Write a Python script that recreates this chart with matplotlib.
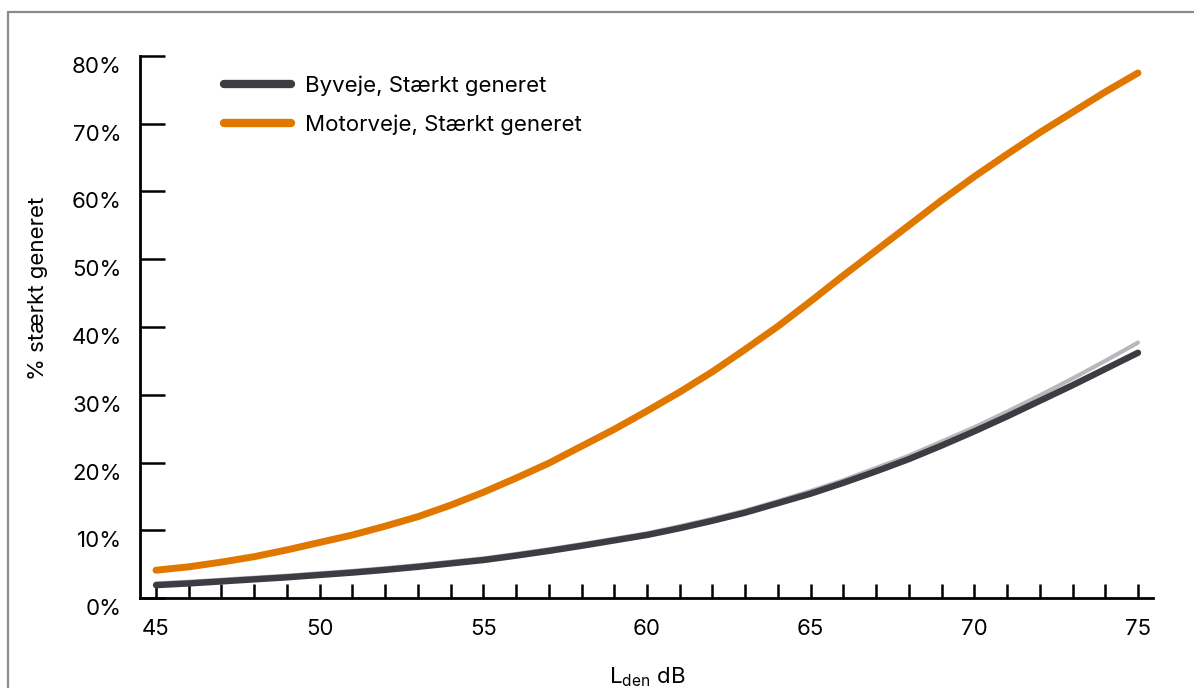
import numpy as np
import matplotlib
matplotlib.use("Agg")
import matplotlib.pyplot as plt
from matplotlib.patches import Rectangle
from matplotlib.ticker import MultipleLocator, FuncFormatter
from matplotlib.transforms import ScaledTranslation

plt.rcParams['font.family'] = ['Inter', 'DejaVu Sans']
plt.rcParams['mathtext.fontset'] = 'custom'
plt.rcParams['mathtext.rm'] = 'Inter'

# data (Lden dB -> % strongly annoyed)
lden = list(range(45, 76))
byveje = [1.9, 2.15, 2.45, 2.75, 3.05, 3.4, 3.75, 4.15, 4.6, 5.1, 5.6,
          6.25, 6.95, 7.7, 8.5, 9.3, 10.3, 11.4, 12.6, 14.0, 15.4,
          17.0, 18.7, 20.5, 22.5, 24.6, 26.8, 29.1, 31.4, 33.8, 36.2]
byveje_lys = [2.15, 2.4, 2.7, 3.0, 3.3, 3.65, 4.0, 4.4, 4.85, 5.35, 5.85,
              6.5, 7.2, 7.95, 8.75, 9.55, 10.6, 11.7, 12.9, 14.3, 15.8,
              17.4, 19.2, 21.0, 23.1, 25.2, 27.5, 29.9, 32.4, 35.0, 37.7]
motorveje = [4.1, 4.6, 5.3, 6.1, 7.1, 8.2, 9.3, 10.6, 12.0, 13.7, 15.6,
             17.7, 19.9, 22.4, 24.9, 27.6, 30.4, 33.4, 36.7, 40.1, 43.8,
             47.6, 51.3, 55.0, 58.7, 62.2, 65.5, 68.7, 71.7, 74.7, 77.5]
labels = ['Byveje, Stærkt generet', 'Motorveje, Stærkt generet']

W, H = 1194, 688
fs = 16
fig = plt.figure(figsize=(W / 100, H / 100), dpi=100)
ax = fig.add_axes([140 / W, 1 - 598 / H, (1153 - 140) / W, (598 - 56) / H])

y1 = np.array(byveje) / 100
y1b = np.array(byveje_lys) / 100
y2 = np.array(motorveje) / 100

ax.plot(lden, y1b, color='#b8b8bb', lw=3.0, solid_capstyle='round', zorder=2)
ax.plot(lden, y1, color='#3b3d43', lw=4.6, solid_capstyle='round', zorder=3, label=labels[0])
ax.plot(lden, y2, color='#e07800', lw=5.0, solid_capstyle='round', zorder=4, label=labels[1])

ax.set_xlim(45 - 16 / 32.73, 75 + 15 / 32.73)
ax.set_ylim(0, 0.8)

for s in ['top', 'right']:
    ax.spines[s].set_visible(False)
for s in ['left', 'bottom']:
    ax.spines[s].set_linewidth(2.0)
ax.spines['left'].set_bounds(0, 0.8)

ax.xaxis.set_major_locator(MultipleLocator(5))
ax.xaxis.set_minor_locator(MultipleLocator(1))
ax.yaxis.set_major_locator(MultipleLocator(0.1))
ax.yaxis.set_major_formatter(FuncFormatter(lambda v, p: f'{v * 100:.0f}%'))

ax.tick_params(axis='x', which='both', direction='in', length=10, width=1.8,
               pad=15, labelsize=fs)
ax.tick_params(axis='y', direction='in', length=18, width=1.8, pad=13, labelsize=fs)

# y labels sit a little below their ticks in the original
shift = ScaledTranslation(0, -9 / 100, fig.dpi_scale_trans)
for lab in ax.get_yticklabels():
    lab.set_transform(lab.get_transform() + shift)

fig.text(38 / W, 1 - 288 / H, '% stærkt generet', rotation=90, fontsize=fs,
         ha='center', va='center')
fig.text(647 / W, 1 - 683 / H, r'L$_{\mathrm{den}}$ dB', fontsize=fs,
         ha='center', va='baseline')

leg = ax.legend(loc='upper left', bbox_to_anchor=(224 / W, 1 - 75 / H),
                bbox_transform=fig.transFigure, frameon=False, fontsize=fs,
                handlelength=3.0, handletextpad=0.65, labelspacing=0.85,
                borderpad=0, borderaxespad=0)
for h in leg.get_lines():
    h.set_linewidth(6)

# grey frame around the figure
fig.patches.append(Rectangle((8 / W, -0.2), 2, 1.2 - 12 / H, transform=fig.transFigure,
                             fill=False, edgecolor='#8c8c8c', lw=1.6))

fig.savefig('out.png', dpi=100)
